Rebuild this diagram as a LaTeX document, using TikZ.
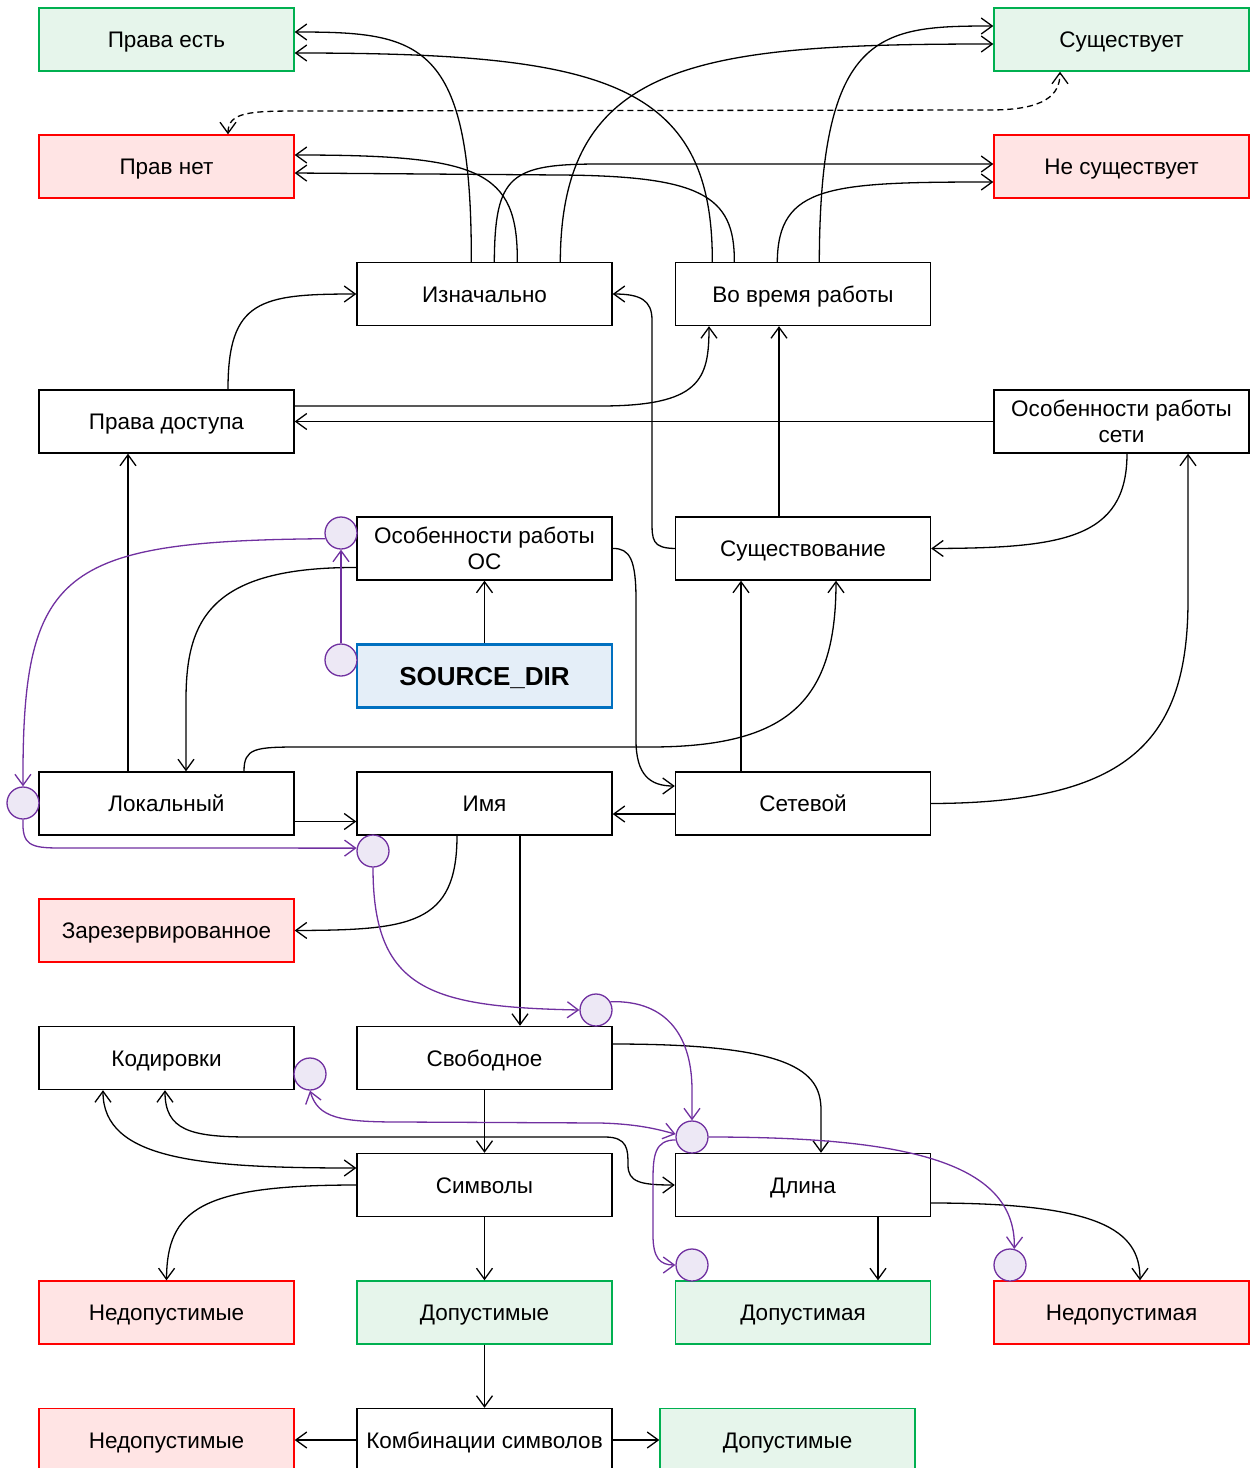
\documentclass[tikz,border=0pt]{standalone}
\usepackage{fontspec}
\setmainfont{Liberation Sans}
\usetikzlibrary{arrows.meta}

\definecolor{okfill}{RGB}{230,245,235}
\definecolor{okline}{RGB}{0,176,80}
\definecolor{badfill}{RGB}{255,228,228}
\definecolor{badline}{RGB}{255,0,0}
\definecolor{srcfill}{RGB}{228,238,248}
\definecolor{srcline}{RGB}{0,112,192}
\definecolor{pinfill}{RGB}{237,232,245}
\definecolor{pinline}{RGB}{112,48,160}

\begin{document}
\begin{tikzpicture}[x=1pt, y=-1pt,
    box/.style={draw, line width=1.4pt, fill=white, minimum width=255pt, minimum height=63pt,
        inner sep=0pt, align=center, text height=16pt, text depth=0pt, font=\fontsize{22.5}{26}\selectfont},
    twoline/.style={text height={}, text depth={}},
    yes/.style={box, draw=okline, fill=okfill},
    no/.style={box, draw=badline, fill=badfill},
    src/.style={box, draw=srcline, fill=srcfill, line width=2.6pt, text height=19pt,
        font=\bfseries\fontsize{26}{30}\selectfont},
    pin/.style={circle, draw=pinline, fill=pinfill, line width=1.3pt, minimum size=32pt, inner sep=0pt},
    link/.style={-{Straight Barb[length=11pt,width=16pt]}, line width=1.3pt},
    twoway/.style={{Straight Barb[length=11pt,width=16pt]}-{Straight Barb[length=11pt,width=16pt]}, line width=1.3pt},
    plink/.style={link, draw=pinline},
    ptwoway/.style={twoway, draw=pinline}]

    \useasboundingbox (0,0) rectangle (1259,1468);

    % Draw the boxes, row by row
    \node[yes] (hasrights) at (166.5, 39.5) {Права есть};
    \node[yes] (exists) at (1121.5, 39.5) {Существует};
    \node[no] (norights) at (166.5, 166.5) {Прав нет};
    \node[no] (notexists) at (1121.5, 166.5) {Не существует};
    \node[box] (initial) at (484.5, 294) {Изначально};
    \node[box] (runtime) at (803, 294) {Во время работы};
    \node[box] (access) at (166.5, 421.5) {Права доступа};
    \node[box, twoline] (netfeat) at (1121.5, 421.5) {Особенности работы\\сети};
    \node[box, twoline] (osfeat) at (484.5, 548.5) {Особенности работы\\ОС};
    \node[box] (existence) at (803, 548.5) {Существование};
    \node[src] (srcdir) at (484.5, 676) {SOURCE\_DIR};
    \node[box] (local) at (166.5, 803.5) {Локальный};
    \node[box] (name) at (484.5, 803.5) {Имя};
    \node[box] (network) at (803, 803.5) {Сетевой};
    \node[no] (reserved) at (166.5, 930.5) {Зарезервированное};
    \node[box] (encodings) at (166.5, 1058) {Кодировки};
    \node[box] (free) at (484.5, 1058) {Свободное};
    \node[box] (symbols) at (484.5, 1185) {Символы};
    \node[box] (length) at (803, 1185) {Длина};
    \node[no] (badsym) at (166.5, 1312.5) {Недопустимые};
    \node[yes] (goodsym) at (484.5, 1312.5) {Допустимые};
    \node[yes] (goodlen) at (803, 1312.5) {Допустимая};
    \node[no] (badlen) at (1121.5, 1312.5) {Недопустимая};
    \node[no] (badcomb) at (166.5, 1440) {Недопустимые};
    \node[box] (combos) at (484.5, 1440) {Комбинации символов};
    \node[yes] (goodcomb) at (787.5, 1440) {Допустимые};

    % Draw the small circles
    \node[pin] (pinos) at (341, 533) {};
    \node[pin] (pinsrc) at (341, 660) {};
    \node[pin] (pinlocal) at (23, 803) {};
    \node[pin] (pinname) at (373, 851) {};
    \node[pin] (pinfree) at (596, 1010) {};
    \node[pin] (pinenc) at (310, 1074) {};
    \node[pin] (pinlen) at (692, 1137) {};
    \node[pin] (pingood) at (692, 1265) {};
    \node[pin] (pinbad) at (1010, 1265) {};

    % Rights and existence at the top
    \draw[link] ([xshift=115pt]initial.north west) .. controls (472,40) and (420,32) .. ([yshift=7.5pt]hasrights.east);
    \draw[link] ([xshift=37.5pt]runtime.north west) .. controls (713,80) and (600,53) .. ([yshift=-13.5pt]hasrights.east);
    \draw[link] ([xshift=161pt]initial.north west) .. controls (518,170) and (480,155) .. ([yshift=11.5pt]norights.east);
    \draw[link] ([xshift=59.5pt]runtime.north west) .. controls (735,195) and (700,176) .. (560,175) -- ([yshift=-6.5pt]norights.east);
    \draw[link] ([xshift=204pt]initial.north west) .. controls (561,60) and (700,44) .. ([yshift=-4.5pt]exists.west);
    \draw[link] ([xshift=144.5pt]runtime.north west) .. controls (820,30) and (880,26) .. ([yshift=13.5pt]exists.west);
    \draw[link] ([xshift=138pt]initial.north west) .. controls (495,175) and (510,164) .. (600,164) -- ([yshift=2.5pt]notexists.west);
    \draw[link] ([xshift=102.5pt]runtime.north west) .. controls (778,185) and (830,182) .. ([yshift=-15.5pt]notexists.west);
    \draw[twoway, dash pattern=on 6pt off 4pt] ([xshift=61.5pt]norights.north) .. controls (228,112) and (250,111) .. (300,111)
        -- (990,110) .. controls (1045,110) and (1060,95) .. ([xshift=-61.5pt]exists.south);

    % Access rights and existence
    \draw[link] ([xshift=61.5pt]access.north) .. controls (228,300) and (260,294) .. (initial.west);
    \draw[link] ([yshift=15.5pt]access.east) -- (600,406) .. controls (700,406) and (709,380) .. ([xshift=-94pt]runtime.south);
    \draw[link] (netfeat.west) -- (access.east);
    \draw[link] (existence.west) .. controls (652,548) and (652,540) .. (652,520) -- (652,320) .. controls (652,300) and (640,294) .. (initial.east);
    \draw[link] ([xshift=5.5pt]netfeat.south) .. controls (1127,540) and (1060,548) .. (existence.east);
    \draw[link] ([xshift=-24pt]existence.north) -- ([xshift=-24pt]runtime.south);
    \draw[link] ([xshift=-62pt]network.north) -- ([xshift=-62pt]existence.south);
    \draw[link] ([xshift=77.5pt]local.north) .. controls (244,748) and (255,747) .. (300,747) -- (650,747)
        .. controls (790,747) and (836,700) .. ([xshift=33pt]existence.south);
    \draw[link] (network.east) .. controls (1130,803) and (1188,740) .. (1188,600) -- ([xshift=66.5pt]netfeat.south);
    \draw[link] ([yshift=-19pt]osfeat.west) .. controls (210,567) and (186,620) .. (186,700) -- ([xshift=19.5pt]local.north);
    \draw[link] (osfeat.east) .. controls (630,548) and (636,560) .. (636,600) -- (636,740) .. controls (636,775) and (650,786) .. ([yshift=17.5pt]network.west);
    \draw[link] ([xshift=-38.5pt]local.north) -- ([xshift=-38.5pt]access.south);
    \draw[link] (srcdir.north) -- (osfeat.south);

    % Name
    \draw[link] ([yshift=-18pt]local.east) -- ([yshift=-18pt]name.west);
    \draw[link] ([yshift=-10.5pt]network.west) -- ([yshift=-10.5pt]name.east);
    \draw[link] ([xshift=-27.5pt]name.south) .. controls (457,925) and (410,930) .. (reserved.east);
    \draw[link] ([xshift=35.5pt]name.south) -- ([xshift=35.5pt]free.north);

    % Free name: symbols and length
    \draw[link] ([yshift=14pt]free.east) .. controls (790,1044) and (821,1070) .. (821,1110) -- ([xshift=18pt]length.north);
    \draw[link] (free.south) -- (symbols.north);
    \draw[twoway] ([xshift=-63.5pt]encodings.south) .. controls (103,1160) and (200,1168) .. ([yshift=17pt]symbols.west);
    \draw[twoway] ([xshift=-1.5pt]encodings.south) .. controls (165,1130) and (190,1137) .. (250,1137) -- (605,1137)
        .. controls (628,1137) and (628,1150) .. (628,1165) .. controls (628,1182) and (640,1185) .. (length.west);
    \draw[link] (symbols.west) .. controls (200,1185) and (167,1210) .. (badsym.north);
    \draw[link] (symbols.south) -- (goodsym.north);
    \draw[link] (goodsym.south) -- (combos.north);
    \draw[link] (combos.west) -- (badcomb.east);
    \draw[link] (combos.east) -- (goodcomb.west);
    \draw[link] ([xshift=75pt]length.south) -- ([xshift=75pt]goodlen.north);
    \draw[link] ([yshift=-18pt]length.east) .. controls (1100,1203) and (1140,1230) .. ([xshift=18.5pt]badlen.north);

    % Purple links between the circles
    \draw[plink] (pinsrc.north) -- (pinos.south);
    \draw[plink] (pinos.200) .. controls (60,541) and (22,570) .. (pinlocal.north);
    \draw[plink] (pinlocal.south) .. controls (22,845) and (30,848) .. (60,848) -- (pinname.170);
    \draw[plink] (pinname.south) .. controls (373,990) and (430,1007) .. (pinfree.west);
    \draw[plink] (pinfree.30) .. controls (670,1000) and (692,1040) .. (692,1090) -- (pinlen.north);
    \draw[ptwoway] (pinenc.south) .. controls (318,1118) and (340,1122) .. (400,1122) -- (600,1123)
        .. controls (640,1124) and (660,1130) .. (pinlen.170);
    \draw[plink] (pinlen.190) .. controls (655,1140) and (653,1155) .. (653,1180) -- (653,1235)
        .. controls (653,1258) and (660,1265) .. (pingood.west);
    \draw[plink] (pinlen.east) .. controls (900,1137) and (1016,1160) .. (pinbad.75);
\end{tikzpicture}
\end{document}
